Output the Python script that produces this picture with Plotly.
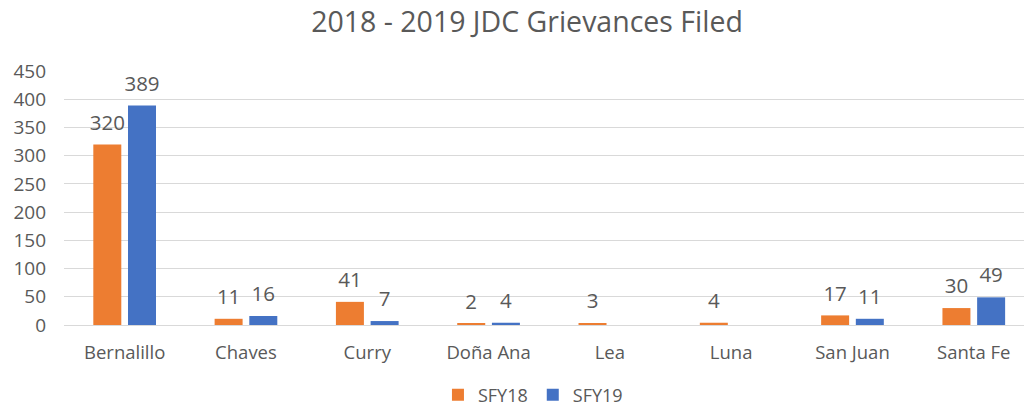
import plotly.graph_objects as go

categories = ["Bernalillo", "Chaves", "Curry", "Doña Ana", "Lea", "Luna", "San Juan", "Santa Fe"]
sfy18 = [320, 11, 41, 2, 3, 4, 17, 30]
sfy19 = [389, 16, 7, 4, None, None, 11, 49]
y_ticks = [0, 50, 100, 150, 200, 250, 300, 350, 400, 450]

FONT = "Open Sans, Noto Sans, sans-serif"
TXT = "#595959"
ORANGE = "#ED7D31"
BLUE = "#4472C4"
GAP = 0.428

fig = go.Figure()
for name, vals, col in [("SFY18", sfy18, ORANGE), ("SFY19", sfy19, BLUE)]:
    fig.add_trace(go.Bar(name=name, x=categories, y=vals, marker_color=col,
                         marker_line_width=0, offsetgroup=name))
for name, vals in [("SFY18", sfy18), ("SFY19", sfy19)]:
    fig.add_trace(go.Scatter(x=categories, y=vals, mode="markers+text", showlegend=False,
                             text=[str(v) if v is not None else "" for v in vals],
                             textposition="top center", offsetgroup=name,
                             marker=dict(size=14, opacity=0), cliponaxis=False,
                             hoverinfo="skip",
                             textfont=dict(size=20.5, color=TXT, family=FONT)))

fig.update_layout(
    width=1024, height=406,
    margin=dict(l=64, r=0, t=71, b=81, autoexpand=False),
    paper_bgcolor="white", plot_bgcolor="white",
    barmode="group", bargap=GAP, bargroupgap=0.193,
    scattermode="group", scattergap=GAP,
    title=dict(text="2018 - 2019 JDC Grievances Filed", x=527 / 1024, xref="container",
               xanchor="center", y=1 - 22 / 406, yref="container", yanchor="middle",
               font=dict(size=28.5, color=TXT, family=FONT)),
    font=dict(family=FONT, color=TXT, size=18),
    showlegend=True,
    legend=dict(orientation="h", x=0.4885, xanchor="center", y=-0.276, yanchor="middle",
                font=dict(size=18, color=TXT, family=FONT), itemwidth=30, traceorder="normal"),
)
fig.update_yaxes(range=[0, 450], tickvals=y_ticks, showgrid=True, gridcolor="#D9D9D9", gridwidth=1,
                 zeroline=False, showline=False, ticks="", ticklabelstandoff=17, automargin=False,
                 tickfont=dict(size=19, color=TXT, family=FONT))
fig.update_xaxes(range=[-0.5, 7.414], showline=True, linecolor="#D9D9D9", ticks="", showgrid=False,
                 ticklabelstandoff=11, automargin=False, tickfont=dict(size=18.5, color=TXT, family=FONT))

fig.write_html("out.html", config={"displayModeBar": False},
               post_script="document.body.style.margin='0';document.body.style.overflow='hidden';")
